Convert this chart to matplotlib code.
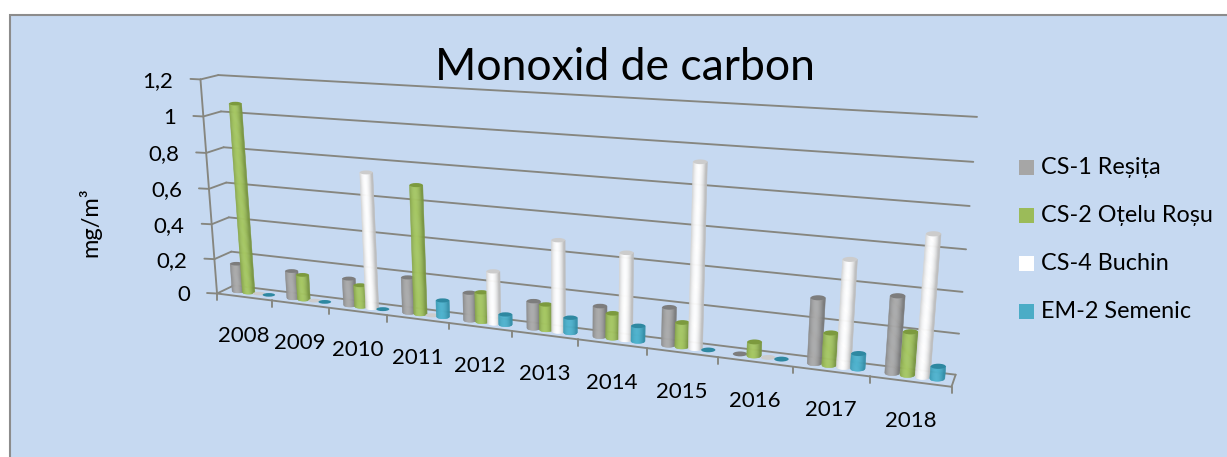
import numpy as np
import matplotlib
matplotlib.use("Agg")
import matplotlib.pyplot as plt
from matplotlib.patches import Ellipse, Rectangle

# ---- data ----
years = ["2008", "2009", "2010", "2011", "2012", "2013", "2014", "2015", "2016", "2017", "2018"]
cs1_resita = [0.16, 0.155, 0.15, 0.195, 0.15, 0.145, 0.16, 0.195, 0.0, 0.325, 0.375]
cs2_otelu = [1.065, 0.14, 0.12, 0.70, 0.16, 0.135, 0.13, 0.125, 0.07, 0.16, 0.21]
cs4_buchin = [0.0, 0.0, 0.745, 0.0, 0.28, 0.48, 0.45, 0.93, 0.0, 0.525, 0.68]
em2_semenic = [0.0, 0.0, 0.0, 0.09, 0.055, 0.08, 0.08, 0.0, 0.0, 0.075, 0.06]
series_names = ["CS-1 Reșița", "CS-2 Oțelu Roșu", "CS-4 Buchin", "EM-2 Semenic"]
y_ticks = [0, 0.2, 0.4, 0.6, 0.8, 1.0, 1.2]
y_labels = ["0", "0,2", "0,4", "0,6", "0,8", "1", "1,2"]

# ---- camera calibration of the 3-D box: (category, value, depth) -> pixel ----
front_px = [(217.7, 293.3), (271.7, 300.2), (329, 307.5), (387, 315), (448, 322.7), (512, 330.9),
            (578, 339.3), (647, 348.1), (718, 357.2), (793, 366.8), (870, 376.6), (952, 387)]
back_left_px = [(233, 287), (231, 252), (229, 217), (227, 182), (224, 147), (221, 111), (218, 75)]
back_right_px = [(955, 374), (959, 333), (963, 292), (967, 250), (969, 206), (973, 162), (977, 117)]

world, pixels = [], []
for i, p in enumerate(front_px):
    world.append((i, 0, 0)); pixels.append(p)
for v, p in zip(y_ticks, back_left_px):
    world.append((0, v, 1)); pixels.append(p)
for v, p in zip(y_ticks, back_right_px):
    world.append((11, v, 1)); pixels.append(p)
world.append((0, 1.2, 0)); pixels.append((200, 80))

rows = []
for (X, Y, Z), (u, v) in zip(world, pixels):
    q = [X / 11, Y / 1.2, Z, 1]
    u, v = u / 1000, v / 1000
    rows.append(q + [0, 0, 0, 0] + [-u * c for c in q])
    rows.append([0, 0, 0, 0] + q + [-v * c for c in q])
P = np.linalg.svd(np.array(rows))[2][-1].reshape(3, 4)


def project(cat, val, depth):
    h = P @ np.array([cat / 11, val / 1.2, depth, 1.0])
    return 1000 * h[0] / h[2], 1000 * h[1] / h[2]


# ---- figure ----
plt.rcParams["font.family"] = ["Lato", "DejaVu Sans"]
W, H = 1227, 457
fig = plt.figure(figsize=(W / 100, H / 100), dpi=100, facecolor="white")
ax = fig.add_axes([0, 0, 1, 1])
ax.set_xlim(0, W)
ax.set_ylim(H, 0)
ax.axis("off")
ax.add_patch(Rectangle((10, 15), W + 20, H + 20, facecolor="#C6D9F1", edgecolor="#8C8C8C", lw=1.5, zorder=0))

GRID = "#86867F"
LW = 1.35


def seg(a, b, lw=LW, color=GRID, z=1):
    ax.plot([a[0], b[0]], [a[1], b[1]], color=color, lw=lw, solid_capstyle="round", zorder=z)


for v, lab in zip(y_ticks, y_labels):
    fl = project(0, v, 0)
    bl = project(0, v, 1)
    br = project(11, v, 1)
    seg(fl, bl)
    seg(bl, br)
    tick = (fl[0] - 10, fl[1] - 0.5)
    seg(fl, tick)
    ax.text(fl[0] - 27, fl[1] + 1.5, lab, ha="right", va="center", fontsize=16, color="black", zorder=5)

seg(project(0, 0, 0), project(0, 1.2, 0))
seg(project(0, 0, 0), project(11, 0, 0))
seg(project(11, 0, 0), project(11, 0, 1))
for i in range(12):
    p = project(i, 0, 0)
    seg(p, (p[0], p[1] + 6.5))
for i, y in enumerate(years):
    p = project(i + 0.5, 0, 0)
    ax.text(p[0], p[1] + 39, y, ha="center", va="center", fontsize=16, color="black", zorder=5)

# ---- cylinders ----
body = [("#7A7A7A", "#ABABAB"), ("#7A9642", "#A6C763"), ("#BDBDBD", "#FFFFFF"), ("#3590A9", "#4FB3CE")]
cap = ["#7D7D7D", "#7C9A3E", "#CCCCCC", "#2E88A1"]
legend_colors = ["#A6A6A6", "#9BBB59", "#FFFFFF", "#4BACC6"]
offsets = [0.24, 0.43, 0.62, 0.80]
values = [cs1_resita, cs2_otelu, cs4_buchin, em2_semenic]
DEPTH = 0.5
N = 14

for c in range(len(years)):
    rx = 6.2 + 1.3 * c / 10
    ry = 1.8 + 0.8 * c / 10
    for s in range(4):
        v = values[s][c]
        bx, by = project(c + offsets[s], 0, DEPTH)
        tx, ty = project(c + offsets[s], v, DEPTH)
        z = 3 + c + s * 0.1
        if v > 0:
            edge, mid = (np.array(matplotlib.colors.to_rgb(k)) for k in body[s])
            us = np.linspace(-1, 1, N + 1)
            for a, b in zip(us[:-1], us[1:]):
                m = (a + b) / 2 + 0.15
                t = np.clip(1 - abs(m) ** 2, 0, 1)
                col = edge + (mid - edge) * t
                xs = [bx + rx * a, bx + rx * b, tx + rx * b, tx + rx * a]
                ys = [by + ry * np.sqrt(1 - a * a), by + ry * np.sqrt(1 - b * b), ty, ty]
                ax.fill(xs, ys, color=col, lw=0.4, zorder=z)
        ax.add_patch(Ellipse((tx, ty), 2 * rx, 2 * ry, facecolor=cap[s], edgecolor="none", zorder=z + 0.05))

# ---- title, axis label, legend ----
ax.text(625, 67, "Monoxid de carbon", ha="center", va="center", fontsize=32, color="black", zorder=6)
ax.text(90, 222, "mg/m³", rotation=90, ha="center", va="center", fontsize=17, color="black", zorder=6)
for name, col, y in zip(series_names, legend_colors, [167.5, 215.5, 263.5, 311.5]):
    ax.add_patch(Rectangle((1019, y - 7.5), 15, 15, facecolor=col, edgecolor="none", zorder=6))
    ax.text(1041, y, name, ha="left", va="center", fontsize=16.8, color="black", zorder=6)

fig.savefig("out.png", dpi=100)
